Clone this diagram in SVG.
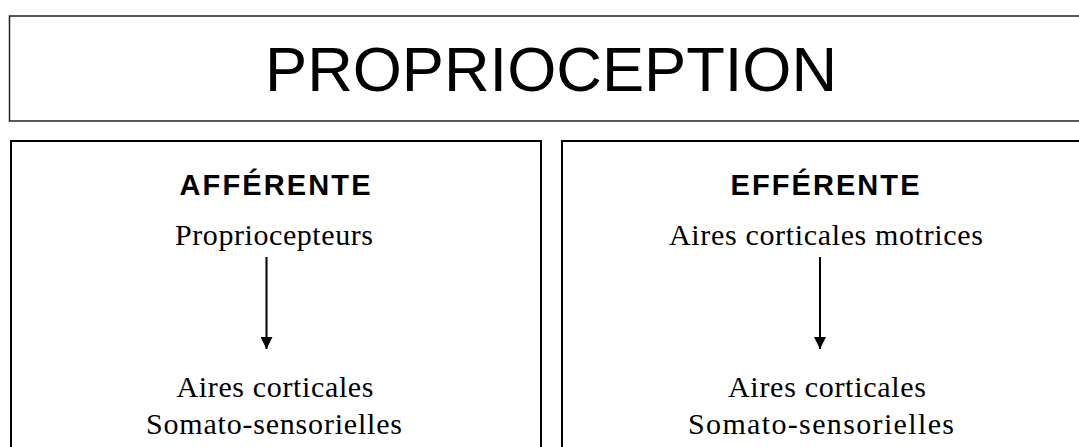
<svg xmlns="http://www.w3.org/2000/svg" width="1079" height="447" viewBox="0 0 1079 447">
  <style>
    .frame-top { fill: #ffffff; stroke: #222222; stroke-width: 1.5; }
    .panel { fill: #ffffff; stroke: #000000; stroke-width: 2; }
    .title { font-family: "Liberation Sans", Arial, sans-serif; font-size: 63px; fill: #000; text-anchor: middle; }
    .head { font-family: "Liberation Sans", Arial, sans-serif; font-size: 29px; font-weight: bold; fill: #000; text-anchor: middle; }
    .body { font-family: "Liberation Serif", "Times New Roman", serif; font-size: 30px; fill: #000; text-anchor: middle; }
    .conn { stroke: #000; stroke-width: 2; fill: none; }
  </style>
  <defs>
    <marker id="arrow" markerUnits="userSpaceOnUse" markerWidth="12" markerHeight="12" viewBox="0 0 10 10" refX="10" refY="5" orient="auto">
      <path d="M0,0 L10,5 L0,10 Z" fill="#000"/>
    </marker>
  </defs>
  <rect width="1079" height="447" fill="#ffffff"/>

  <g id="title-box">
    <rect class="frame-top" x="9.5" y="16" width="1090" height="105"/>
    <text class="title" x="551" y="91" textLength="572" lengthAdjust="spacingAndGlyphs">PROPRIOCEPTION</text>
  </g>

  <g id="afferente-panel">
    <rect class="panel" x="11" y="141" width="530" height="330"/>
    <text class="head" x="275" y="195" textLength="191" lengthAdjust="spacing">AFFÉRENTE</text>
  </g>
  <g id="afferente-source">
    <text class="body" x="274" y="245" textLength="198" lengthAdjust="spacing">Propriocepteurs</text>
  </g>
  <g id="afferente-target">
    <text class="body" x="275" y="397" textLength="197" lengthAdjust="spacing">Aires corticales</text>
    <text class="body" x="274" y="434" textLength="256" lengthAdjust="spacing">Somato-sensorielles</text>
  </g>

  <g id="efferente-panel">
    <rect class="panel" x="562" y="141" width="530" height="330"/>
    <text class="head" x="825" y="195" textLength="189" lengthAdjust="spacing">EFFÉRENTE</text>
  </g>
  <g id="efferente-source">
    <text class="body" x="826" y="245" textLength="314" lengthAdjust="spacing">Aires corticales motrices</text>
  </g>
  <g id="efferente-target">
    <text class="body" x="827" y="397" textLength="198" lengthAdjust="spacing">Aires corticales</text>
    <text class="body" x="821" y="434" textLength="266" lengthAdjust="spacing">Somato-sensorielles</text>
  </g>

  <g id="connectors">
    <line class="conn" x1="266.5" y1="257" x2="266.5" y2="349" marker-end="url(#arrow)"/>
    <line class="conn" x1="820" y1="257" x2="820" y2="349" marker-end="url(#arrow)"/>
  </g>
</svg>
